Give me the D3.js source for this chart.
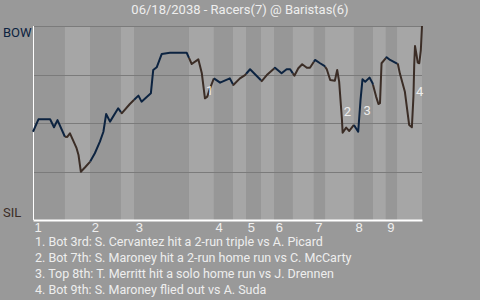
<!DOCTYPE html>
<html>
<head>
<meta charset="utf-8">
<script src="https://cdn.jsdelivr.net/npm/d3@7"></script>
<style>
  body { margin: 0; background: #999999; }
  svg { display: block; font-family: Roboto, sans-serif; }
  .grid { stroke: #7b7b7b; stroke-width: 1px; }
  .tick text { fill: #eeeeee; font-size: 13px; }
  .note { fill: #eeeeee; font-size: 13px; }
  .footnote { fill: #eeeeee; font-size: 12.5px; }
</style>
</head>
<body>
<div id="chart"></div>
<script>
const title = '06/18/2038 - Racers(7) @ Baristas(6)'
const teams = ['BOW', 'SIL']
const innings = [1, 2, 3, 4, 5, 6, 7, 8, 9]
// game progress (0-100) where each half inning begins
const halfStarts = [0, 8.2, 14.7, 22.6, 26.0, 40.1, 46.5, 51.4, 54.8, 58.6, 62.0, 66.8, 72.2, 75.1, 82.5, 87.4, 90.7, 93.6]
const gameEnd = 100

const progress = [0, 1.4, 4.4, 5.4, 6.3, 8.2, 8.8, 9.5, 11.2, 11.7, 12.3, 13.4, 14.7, 15.9, 17.2, 18.1, 18.8, 19.8, 21.9, 22.8,
  24.9, 27.1, 27.9, 30.3, 30.9, 31.8, 33.1, 35.2, 39.5, 40.8, 42.5, 43.4, 44.2, 44.8, 45.5, 46.5, 48.1, 50.6, 51.5, 53.2,
  54.5, 55.8, 58.8, 60.1, 62.2, 63.9, 65.2, 66.1, 67.2, 68.2, 69.2, 70.4, 71.2, 72.5, 73.8, 74.9, 75.5, 76.4, 77.6, 78.2,
  78.7, 79.4, 79.6, 80.5, 81.3, 82.5, 83.6, 84.2, 84.7, 85.4, 86.5, 87.3, 88.2, 88.8, 89.2, 89.6, 90.9, 91.8, 93.8, 94.3,
  95.6, 96.7, 97.4, 97.8, 98.0, 98.2, 98.6, 98.9, 99.3, 99.7, 100]
// win probability for BOW
const winProb = [.455, .519, .519, .478, .515, .429, .428, .447, .370, .335, .249, .272, .301, .344, .404, .455, .546, .507, .576, .550,
  .598, .641, .610, .653, .773, .787, .856, .862, .862, .804, .828, .756, .627, .636, .679, .730, .708, .730, .696, .730,
  .747, .777, .716, .747, .785, .756, .777, .777, .744, .782, .803, .785, .785, .825, .808, .795, .778, .722, .718, .773,
  .713, .524, .450, .476, .459, .490, .455, .619, .725, .713, .734, .705, .636, .598, .602, .808, .839, .825, .804, .756,
  .661, .490, .478, .636, .799, .897, .851, .811, .808, .876, 1.0]

const notes = [
  '1. Bot 3rd: S. Cervantez hit a 2-run triple vs A. Picard',
  '2. Bot 7th: S. Maroney hit a 2-run home run vs C. McCarty',
  '3. Top 8th: T. Merritt hit a solo home run vs J. Drennen',
  '4. Bot 9th: S. Maroney flied out vs A. Suda'
]
const noteFrom = [31, 60, 66, 82]
const noteTo = [32, 62, 68, 85]

const width = 480, height = 300
const margin = { top: 26, right: 58, bottom: 80, left: 33 }
const colors = { top: '#0c2340', bottom: '#3b2d26', bandTop: '#979797', bandBottom: '#a6a6a6' }

const svg = d3.select('#chart')
  .append('svg')
  .attr('width', width)
  .attr('height', height)

const x = d3.scaleLinear().domain([0, gameEnd]).range([margin.left, width - margin.right])
const y = d3.scaleLinear().domain([0, 1]).range([height - margin.bottom, margin.top])

const points = progress.map((p, i) => ({ p, wp: winProb[i] }))
const halves = halfStarts.map((s, i) => ({ start: s, end: i + 1 < halfStarts.length ? halfStarts[i + 1] : gameEnd, top: i % 2 === 0 }))

// bands for each half inning
svg.append('g').selectAll('rect')
  .data(halves)
  .join('rect')
  .attr('x', d => x(d.start))
  .attr('width', d => x(d.end) - x(d.start))
  .attr('y', y(1))
  .attr('height', y(0) - y(1))
  .attr('fill', d => d.top ? colors.bandTop : colors.bandBottom)

svg.append('g').selectAll('line')
  .data([0.25, 0.5, 0.75, 1])
  .join('line')
  .attr('class', 'grid')
  .attr('x1', x(0))
  .attr('x2', x(gameEnd))
  .attr('y1', d => Math.round(y(d)) + 0.5)
  .attr('y2', d => Math.round(y(d)) + 0.5)

// axes
svg.append('line')
  .attr('x1', x(0) + 0.5).attr('x2', x(0) + 0.5)
  .attr('y1', y(1)).attr('y2', y(0))
  .attr('stroke', '#ffffff')

const xAxis = svg.append('g')
  .attr('transform', `translate(0,${y(0)})`)
  .call(d3.axisBottom(x)
    .tickValues(halfStarts.filter((d, i) => i % 2 === 0))
    .tickFormat((d, i) => innings[i])
    .tickSize(0)
    .tickPadding(3))
xAxis.select('.domain').attr('stroke', '#ffffff').attr('stroke-width', 2)
xAxis.selectAll('text').attr('text-anchor', 'start').attr('dx', 1)

svg.append('g').selectAll('text')
  .data(teams)
  .join('text')
  .attr('x', 3)
  .attr('y', (d, i) => i === 0 ? y(1) + 11 : y(0) - 3)
  .attr('fill', (d, i) => i === 0 ? colors.top : colors.bottom)
  .style('font-size', '13px')
  .text(d => d)

// win probability line, split per half inning
const interp = p => {
  const i = d3.bisector(d => d.p).left(points, p)
  if (i <= 0) return points[0].wp
  if (i >= points.length) return points[points.length - 1].wp
  const a = points[i - 1], b = points[i]
  return a.wp + (b.wp - a.wp) * (p - a.p) / (b.p - a.p)
}
const line = d3.line().x(d => x(d.p)).y(d => y(d.wp))

svg.append('g').selectAll('path')
  .data(halves)
  .join('path')
  .attr('fill', 'none')
  .attr('stroke', d => d.top ? colors.top : colors.bottom)
  .attr('stroke-width', 2)
  .attr('stroke-linejoin', 'round')
  .attr('d', d => {
    const seg = [{ p: d.start, wp: interp(d.start) }]
      .concat(points.filter(q => q.p > d.start && q.p < d.end))
      .concat([{ p: d.end, wp: interp(d.end) }])
    return line(seg)
  })

// note markers
svg.append('g').selectAll('text')
  .data(noteTo)
  .join('text')
  .attr('class', 'note')
  .attr('x', d => x(points[d].p) + 1)
  .attr('y', (d, i) => (y(points[noteFrom[i]].wp) + y(points[d].wp)) / 2 + 9)
  .text((d, i) => i + 1)

svg.append('text')
  .attr('x', width / 2)
  .attr('y', 14)
  .attr('text-anchor', 'middle')
  .attr('fill', '#eeeeee')
  .style('font-size', '13px')
  .text(title)

svg.append('g').selectAll('text')
  .data(notes)
  .join('text')
  .attr('class', 'footnote')
  .attr('x', 35)
  .attr('y', (d, i) => 246 + i * 16)
  .text(d => d)
</script>
</body>
</html>
